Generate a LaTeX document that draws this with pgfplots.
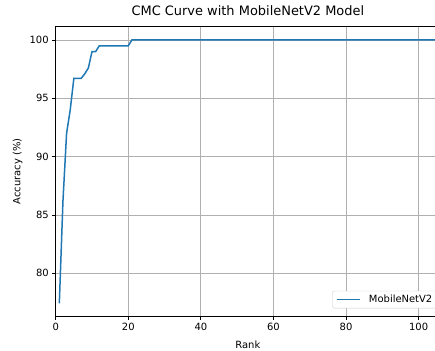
\documentclass[border=0pt]{standalone}
\usepackage{fontspec}
\setmainfont{DejaVu Sans}
\usepackage{pgfplots}
\pgfplotsset{compat=1.18}
\usetikzlibrary{calc}
\definecolor{mplblue}{HTML}{1F77B4}
\definecolor{gridgray}{HTML}{B0B0B0}

% Cumulative match characteristic: accuracy (%) at each rank
\pgfplotstableread{
rank acc
1 77.43
2 86.2
3 92.0
4 94.0
5 96.7
6 96.7
7 96.7
8 97.1
9 97.6
10 99.0
11 99.0
12 99.5
13 99.5
14 99.5
15 99.5
16 99.5
17 99.5
18 99.5
19 99.5
20 99.5
21 100
30 100
40 100
50 100
60 100
70 100
80 100
90 100
100 100
106 100
}\cmcdata

\begin{document}
\begin{tikzpicture}
\begin{axis}[
  scale only axis,
  width=384.3bp, height=289.3bp,
  xmin=0, xmax=105.9,
  ymin=76.34, ymax=101.14,
  xtick={0,20,40,60,80,100},
  ytick={80,85,90,95,100},
  tick pos=left,
  tick align=outside,
  major tick length=3.5bp,
  every tick/.style={black, line width=0.8bp},
  axis line style={line width=0.8bp},
  grid=major,
  major grid style={gridgray, line width=0.8bp},
  /pgf/number format/assume math mode=true,
  tick label style={font=\fontsize{10}{12}\selectfont},
  label style={font=\fontsize{10}{12}\selectfont},
  title style={font=\fontsize{13}{15}\selectfont,
    at={($(axis description cs:0.5,1)+(0,5bp)$)}, anchor=base},
  xlabel style={at={($(axis description cs:0.5,0)+(0,-32.3bp)$)}, anchor=base},
  ylabel style={at={($(axis description cs:0,0.5)+(-35.2bp,0)$)}, anchor=base},
  title={CMC Curve with MobileNetV2 Model},
  xlabel={Rank},
  ylabel={Accuracy (\%)},
  legend style={
    at={(0.7197,0)}, anchor=south west, yshift=7.7bp,
    draw=black!20, rounded corners=2bp, fill=white,
    font=\fontsize{10}{12}\selectfont,
    inner xsep=3.3bp, inner ysep=2bp,
    nodes={inner xsep=0pt, inner ysep=2bp},
  },
  legend image post style={xscale=1.37},
  legend cell align=left,
]
\addplot[mplblue, line width=1.5bp, mark=none, forget plot] table[x=rank, y=acc] {\cmcdata};
\addlegendimage{mplblue, line width=1.5bp}
\addlegendentry{\hspace*{8.4bp}MobileNetV2\hspace*{4bp}}
\end{axis}
\pgfresetboundingbox
\path ([xshift=-55.7bp, yshift=-35bp]current axis.south west)
  rectangle ([xshift=-5bp, yshift=26.7bp]current axis.north east);
\end{tikzpicture}
\end{document}
